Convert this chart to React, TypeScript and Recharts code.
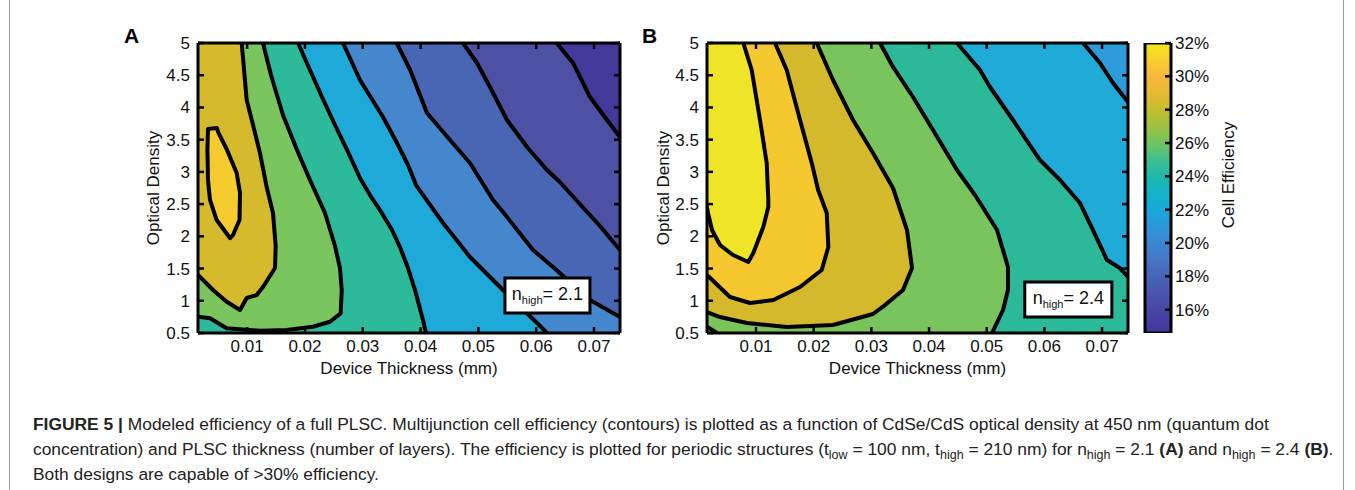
import React from "react";
import { ComposedChart, Scatter, XAxis, YAxis, ReferenceArea } from "recharts";

type Pair = [number, number];
type Band = { color: string; pts: Pair[] };

const X_MIN = 0.0015;
const X_MAX = 0.0745;
const Y_MIN = 0.5;
const Y_MAX = 5;

const thicknessTicks = [0.01, 0.02, 0.03, 0.04, 0.05, 0.06, 0.07];
const densityTicks = [0.5, 1, 1.5, 2, 2.5, 3, 3.5, 4, 4.5, 5];
const efficiencyTicks = [16, 18, 20, 22, 24, 26, 28, 30, 32];
const efficiencyRange: [number, number] = [14.6, 32];

// colorbar: [efficiency %, colour]
const colorbarStops: [number, string][] = [
  [14.6, "#41369A"],
  [16, "#4A47A4"],
  [18, "#4864B8"],
  [19, "#4676C6"],
  [20, "#3D86D2"],
  [21, "#2B98DA"],
  [22, "#1AA8DB"],
  [23, "#14B2C8"],
  [24, "#1DB9AD"],
  [25, "#3EBF8C"],
  [26, "#6FC460"],
  [27, "#9DC244"],
  [28, "#C5BD2C"],
  [29, "#E8BA33"],
  [30, "#F8B73C"],
  [31, "#F9CF2F"],
  [32, "#F5E61E"],
];
// colorbar strip outline (x is a dummy 0..1 span)
const colorbarOutline: Pair[] = [[0, 14.6], [1, 14.6], [1, 32], [0, 32], [0, 14.6]];

// ---- panel A contours (thickness mm, optical density) ----
const a1: Pair[] = [
  [0.00906, 5], [0.00992, 4.115], [0.0108, 3.805], [0.01222, 3.293], [0.01338, 2.765],
  [0.01447, 2.362], [0.01494, 1.85], [0.01482, 1.508], [0.01274, 1.214], [0.01165, 1.089],
  [0.00992, 1.043], [0.00877, 0.857], [0.00646, 0.985], [0.0041, 1.167], [0.0015, 1.4],
];
const aPeak: Pair[] = [
  [0.00323, 3.665], [0.00479, 3.681], [0.00496, 3.62], [0.00652, 3.34], [0.00819, 2.983],
  [0.00877, 2.672], [0.00868, 2.253], [0.00755, 2.02], [0.00704, 1.974], [0.00473, 2.253],
  [0.00358, 2.564], [0.00323, 2.874], [0.00313, 3.34], [0.00323, 3.665],
];
const a2: Pair[] = [
  [0.01274, 5], [0.01413, 4.503], [0.0162, 3.883], [0.01863, 3.34], [0.02087, 2.874],
  [0.02347, 2.362], [0.0252, 1.85], [0.02606, 1.508], [0.02636, 1.167], [0.02618, 0.805],
  [0.02433, 0.675], [0.02139, 0.597], [0.01684, 0.546], [0.01222, 0.535], [0.00646, 0.573],
  [0.00358, 0.728], [0.0015, 0.753],
];
const a3: Pair[] = [
  [0.0188, 5], [0.02087, 4.581], [0.02295, 4.162], [0.0252, 3.728], [0.02745, 3.309],
  [0.02952, 2.905], [0.03125, 2.641], [0.03298, 2.408], [0.03506, 2.098], [0.03644, 1.834],
  [0.03783, 1.508], [0.03904, 1.167], [0.04042, 0.702], [0.04094, 0.5],
];
const a4: Pair[] = [
  [0.02658, 5], [0.02952, 4.426], [0.0335, 3.852], [0.03592, 3.448], [0.03783, 3.107],
  [0.03921, 2.796], [0.04388, 2.207], [0.04855, 1.679], [0.05426, 1.167], [0.06014, 0.655],
  [0.06187, 0.5],
];
const a5: Pair[] = [
  [0.03587, 5], [0.0382, 4.581], [0.04111, 3.914], [0.04509, 3.495], [0.04855, 3.138],
  [0.05253, 2.564], [0.05426, 2.377], [0.05945, 1.788], [0.06291, 1.524], [0.06931, 1.012],
  [0.0745, 0.748],
];
const a6: Pair[] = [
  [0.04734, 5], [0.04976, 4.69], [0.05201, 4.317], [0.05495, 3.805], [0.05841, 3.386],
  [0.06187, 3.029], [0.0641, 2.843], [0.06722, 2.533], [0.07103, 2.16], [0.0745, 1.788],
];
const a7: Pair[] = [
  [0.06355, 5], [0.06637, 4.69], [0.06931, 4.162], [0.07225, 3.805], [0.0745, 3.541],
];

// ---- panel B contours ----
const b1: Pair[] = [
  [0.0078, 5], [0.00925, 4.581], [0.01069, 3.805], [0.01185, 3.138], [0.01213, 2.564],
  [0.01213, 2.455], [0.01126, 2.145], [0.00953, 1.741], [0.00866, 1.602], [0.00601, 1.71],
  [0.00375, 1.865], [0.00237, 2.098], [0.00167, 2.362], [0.0015, 2.45],
];
const b2: Pair[] = [
  [0.01329, 5], [0.01532, 4.581], [0.01763, 3.805], [0.01966, 3.138], [0.02077, 2.72],
  [0.02226, 2.362], [0.02254, 1.834], [0.02139, 1.478], [0.01763, 1.214], [0.013, 1.012],
  [0.00896, 0.965], [0.00549, 1.058], [0.0015, 1.4],
];
const b3: Pair[] = [
  [0.02052, 5], [0.02335, 4.426], [0.02682, 3.805], [0.03028, 3.293], [0.03375, 2.75],
  [0.03618, 2.098], [0.03705, 1.508], [0.03549, 1.167], [0.03237, 0.934], [0.03028, 0.795],
  [0.02335, 0.624], [0.01537, 0.593], [0.00844, 0.655], [0.00375, 0.748], [0.0015, 0.826],
];
const b4: Pair[] = [
  [0.0315, 5], [0.03375, 4.628], [0.03722, 4.162], [0.04069, 3.65], [0.04485, 3.029],
  [0.04797, 2.641], [0.05179, 2.098], [0.05369, 1.524], [0.05369, 1.167], [0.05283, 0.857],
  [0.05092, 0.5],
];
const b5: Pair[] = [
  [0.04485, 5], [0.04884, 4.581], [0.05057, 4.317], [0.05456, 3.805], [0.05924, 3.184],
  [0.06271, 2.874], [0.06618, 2.517], [0.06843, 2.098], [0.07086, 1.632], [0.0731, 1.508],
  [0.0745, 1.369],
];
const b6: Pair[] = [[0.0667, 5], [0.06965, 4.69], [0.0719, 4.379], [0.0745, 4.084]];
const bCorner: Pair[] = [[0.0015, 0.6], [0.0032, 0.5]];

const TL: Pair = [X_MIN, Y_MAX];
const TR: Pair = [X_MAX, Y_MAX];
const BR: Pair = [X_MAX, Y_MIN];
const BL: Pair = [X_MIN, Y_MIN];

const bandsA: Band[] = [
  { color: "#43399A", pts: [TL, TR, BR, BL] },
  { color: "#4E50A4", pts: [TL, ...a7, BR, BL] },
  { color: "#4866B3", pts: [TL, ...a6, BR, BL] },
  { color: "#4587CD", pts: [TL, ...a5, BR, BL] },
  { color: "#1FA9D8", pts: [TL, ...a4, BL] },
  { color: "#2CBA9A", pts: [TL, ...a3, BL] },
  { color: "#7BC55E", pts: [TL, ...a2] },
  { color: "#D4BA2C", pts: [TL, ...a1] },
  { color: "#F5CB2F", pts: aPeak },
];
const linesA = [a1, aPeak, a2, a3, a4, a5, a6, a7];

const bandsB: Band[] = [
  { color: "#2D9CDB", pts: [TL, TR, BR, BL] },
  { color: "#1FAAD8", pts: [TL, ...b6, BR, BL] },
  { color: "#2CB99A", pts: [TL, ...b5, BR, BL] },
  { color: "#7AC45E", pts: [TL, ...b4, ...[...bCorner].reverse()] },
  { color: "#D4B92D", pts: [TL, ...b3] },
  { color: "#F6C82F", pts: [TL, ...b2] },
  { color: "#EEE528", pts: [TL, ...b1] },
];
const linesB = [b1, b2, b3, b4, b5, b6, bCorner];

const FONT = '"Liberation Sans", Arial, Helvetica, sans-serif';
const INK = "#111";
const noDot = () => <g />;
const toPts = (pts: Pair[]) => pts.map(([x, y]) => ({ x, y }));

const tickStyle = { fill: INK, fontSize: 17, fontFamily: FONT };
const axisLine = { stroke: "#000", strokeWidth: 3 };
const tickLine = { stroke: "#000", strokeWidth: 2.5 };

function nLabel(value: string) {
  return (props: any) => {
    const { x, y, width, height } = props.viewBox;
    return (
      <text
        x={x + width / 2}
        y={y + height / 2 + 4}
        textAnchor="middle"
        fontFamily={FONT}
        fontSize={18}
        fill={INK}
      >
        <tspan>n</tspan>
        <tspan fontSize={11} dy={4}>high</tspan>
        <tspan dy={-4}>= {value}</tspan>
      </text>
    );
  };
}

function cellEfficiencyTitle(props: any) {
  const { x, y, height } = props.viewBox;
  const cx = x + 57;
  const cy = y + height / 2 - 13;
  return (
    <text
      x={cx}
      y={cy}
      dy="0.35em"
      textAnchor="middle"
      transform={`rotate(-90, ${cx}, ${cy})`}
      fontFamily={FONT}
      fontSize={17}
      fill={INK}
    >
      Cell Efficiency
    </text>
  );
}

type PanelProps = {
  left: number;
  yWidth: number;
  plotWidth: number;
  bands: Band[];
  lines: Pair[][];
  box: [number, number, number, number];
  nValue: string;
  letter: string;
  letterLeft: number;
};

function Panel({ left, yWidth, plotWidth, bands, lines, box, nValue, letter, letterLeft }: PanelProps) {
  const width = 530;
  const marginRight = width - yWidth - plotWidth - 1;
  return (
    <>
      <div
        style={{
          position: "absolute",
          left: letterLeft,
          top: 25,
          fontFamily: FONT,
          fontWeight: 700,
          fontSize: 21,
          lineHeight: "21px",
          color: "#000",
        }}
      >
        {letter}
      </div>
      <div style={{ position: "absolute", left, top: 20 }}>
        <ComposedChart
          width={width}
          height={370}
          margin={{ top: 22, right: marginRight, bottom: 11, left: 0 }}
        >
          {bands.map((b, i) => (
            <Scatter
              key={`band-${i}`}
              data={toPts(b.pts)}
              line={{ fill: b.color, stroke: "none" }}
              lineType="joint"
              lineJointType="linear"
              shape={noDot}
              isAnimationActive={false}
              zIndex={50}
            />
          ))}
          {lines.map((l, i) => (
            <Scatter
              key={`line-${i}`}
              data={toPts(l)}
              line={{
                stroke: "#000",
                strokeWidth: 4,
                fill: "none",
                strokeLinejoin: "round",
                strokeLinecap: "round",
              }}
              lineType="joint"
              lineJointType="linear"
              shape={noDot}
              isAnimationActive={false}
              zIndex={60}
            />
          ))}
          <XAxis
            type="number"
            dataKey="x"
            domain={[X_MIN, X_MAX]}
            allowDataOverflow
            ticks={thicknessTicks}
            interval={0}
            height={46}
            tickSize={-6}
            tickMargin={13}
            tick={tickStyle}
            tickLine={tickLine}
            axisLine={axisLine}
            tickFormatter={(v: number) => String(v)}
            label={{
              value: "Device Thickness (mm)",
              position: "insideBottom",
              offset: 5,
              fill: INK,
              fontSize: 17,
              fontFamily: FONT,
            }}
          />
          <XAxis
            xAxisId="top"
            orientation="top"
            type="number"
            dataKey="x"
            domain={[X_MIN, X_MAX]}
            allowDataOverflow
            ticks={thicknessTicks}
            interval={0}
            height={1}
            tickSize={-6}
            tickLine={tickLine}
            axisLine={axisLine}
            tickFormatter={() => ""}
          />
          <YAxis
            type="number"
            dataKey="y"
            domain={[Y_MIN, Y_MAX]}
            allowDataOverflow
            ticks={densityTicks}
            interval={0}
            width={yWidth}
            tickSize={-6}
            tickMargin={14}
            tick={tickStyle}
            tickLine={tickLine}
            axisLine={axisLine}
            tickFormatter={(v: number) => String(v)}
            label={{
              value: "Optical Density",
              angle: -90,
              position: "center",
              fill: INK,
              fontSize: 17,
              fontFamily: FONT,
            }}
          />
          <YAxis
            yAxisId="right"
            orientation="right"
            type="number"
            dataKey="y"
            domain={[Y_MIN, Y_MAX]}
            allowDataOverflow
            ticks={densityTicks}
            interval={0}
            width={1}
            tickSize={-6}
            tickLine={tickLine}
            axisLine={axisLine}
            tickFormatter={() => ""}
          />
          <ReferenceArea
            x1={box[0]}
            x2={box[1]}
            y1={box[2]}
            y2={box[3]}
            fill="#fff"
            fillOpacity={1}
            stroke="#000"
            strokeWidth={3}
            zIndex={800}
            label={nLabel(nValue)}
          />
        </ComposedChart>
      </div>
    </>
  );
}

function Colorbar() {
  return (
    <div style={{ position: "absolute", left: 1130, top: 20 }}>
      <ComposedChart width={170} height={370} margin={{ top: 23, right: 15, bottom: 57, left: 15 }}>
        <Scatter
          xAxisId="cb"
          yAxisId="cb"
          data={toPts(colorbarOutline)}
          line={{ fill: "url(#parula)", stroke: "#000", strokeWidth: 3, strokeLinejoin: "miter" }}
          lineType="joint"
          lineJointType="linear"
          shape={noDot}
          isAnimationActive={false}
          zIndex={10}
        />
        <XAxis xAxisId="cb" type="number" dataKey="x" domain={[0, 1]} hide />
        <YAxis
          yAxisId="cb"
          orientation="right"
          type="number"
          dataKey="y"
          domain={efficiencyRange}
          allowDataOverflow
          ticks={efficiencyTicks}
          interval={0}
          width={114}
          tickSize={-6}
          tickMargin={10}
          tick={tickStyle}
          tickLine={{ stroke: "#000", strokeWidth: 2.5 }}
          axisLine={false}
          tickFormatter={(v: number) => `${v}%`}
          label={cellEfficiencyTitle}
        />
      </ComposedChart>
    </div>
  );
}

const sub: React.CSSProperties = { fontSize: "72%", verticalAlign: "-0.3em", lineHeight: 0 };

export default function App() {
  const span = efficiencyRange[1] - efficiencyRange[0];
  return (
    <div
      style={{
        position: "absolute",
        left: 0,
        top: 0,
        width: 1355,
        height: 490,
        background: "#fff",
        overflow: "hidden",
      }}
    >
      <svg width={0} height={0} style={{ position: "absolute" }}>
        <defs>
          <linearGradient id="parula" x1="0" y1="1" x2="0" y2="0">
            {colorbarStops.map(([v, c]) => (
              <stop key={v} offset={(v - efficiencyRange[0]) / span} stopColor={c} />
            ))}
          </linearGradient>
        </defs>
      </svg>
      <div style={{ position: "absolute", left: 9, top: 0, width: 1, height: 490, background: "#9a9a9a" }} />
      <div style={{ position: "absolute", left: 1343, top: 0, width: 1, height: 490, background: "#9a9a9a" }} />

      <Panel
        left={107}
        yWidth={91}
        plotWidth={422}
        bands={bandsA}
        lines={linesA}
        box={[0.0546, 0.0693, 0.81, 1.353]}
        nValue="2.1"
        letter="A"
        letterLeft={124}
      />
      <Panel
        left={618}
        yWidth={89}
        plotWidth={421}
        bands={bandsB}
        lines={linesB}
        box={[0.0566, 0.0717, 0.748, 1.291]}
        nValue="2.4"
        letter="B"
        letterLeft={642}
      />
      <Colorbar />

      <div
        style={{
          position: "absolute",
          left: 33,
          top: 412,
          fontFamily: FONT,
          fontSize: 17.4,
          lineHeight: "25px",
          color: "#222",
          whiteSpace: "nowrap",
        }}
      >
        <div>
          <b>FIGURE 5 |</b> Modeled efficiency of a full PLSC. Multijunction cell efficiency (contours) is plotted as a
          function of CdSe/CdS optical density at 450 nm (quantum dot
        </div>
        <div>
          concentration) and PLSC thickness (number of layers). The efficiency is plotted for periodic structures (t
          <span style={sub}>low</span> = 100 nm, t<span style={sub}>high</span> = 210 nm) for n
          <span style={sub}>high</span> = 2.1 <b>(A)</b> and n<span style={sub}>high</span> = 2.4 <b>(B)</b>.
        </div>
        <div>Both designs are capable of &gt;30% efficiency.</div>
      </div>
    </div>
  );
}
